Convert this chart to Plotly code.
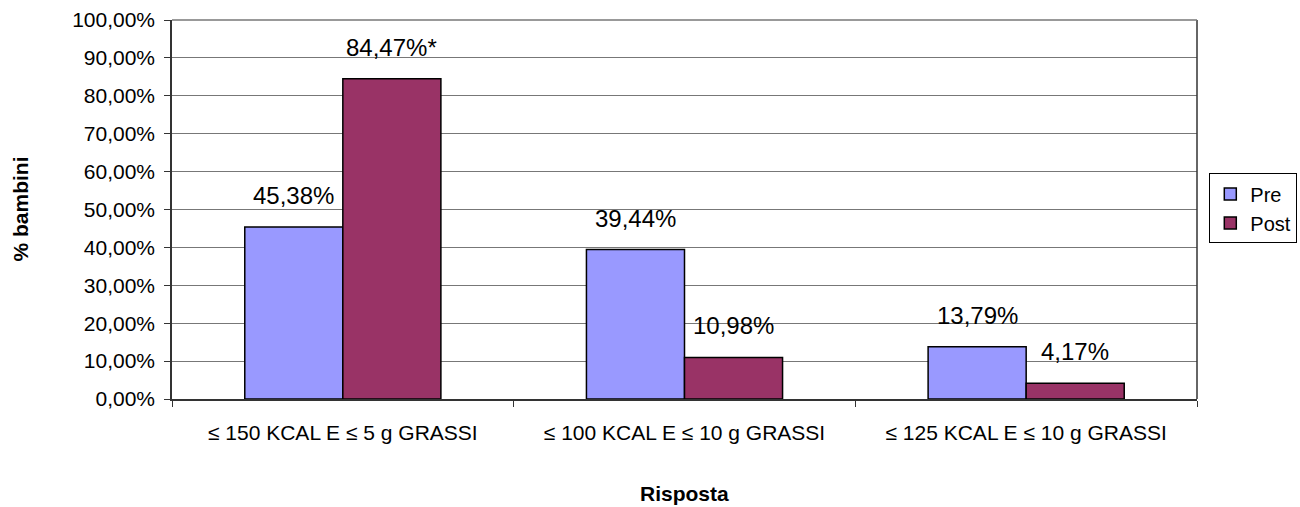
import plotly.graph_objects as go

categories = ["≤ 150 KCAL E ≤ 5 g GRASSI", "≤ 100 KCAL E ≤ 10 g GRASSI", "≤ 125 KCAL E ≤ 10 g GRASSI"]
pre_values = [45.38, 39.44, 13.79]
post_values = [84.47, 10.98, 4.17]
post_marks = ["*", "", ""]
y_ticks = [0, 10, 20, 30, 40, 50, 60, 70, 80, 90, 100]


def fmt(v):
    return f"{v:.2f}".replace(".", ",") + "%"


FONT = "Liberation Sans, Arial, sans-serif"
BAR_SHIFT = 49  # half a bar width in px: centre of each bar in its group

fig = go.Figure()
fig.add_trace(go.Bar(
    name="Pre", x=categories, y=pre_values,
    marker=dict(color="#9999ff", line=dict(color="#000000", width=1.5)),
))
fig.add_trace(go.Bar(
    name="Post", x=categories, y=post_values,
    marker=dict(color="#993366", line=dict(color="#000000", width=1.5)),
))

# value labels above each bar
for cat, v in zip(categories, pre_values):
    fig.add_annotation(x=cat, y=v, text=fmt(v), xshift=-BAR_SHIFT, yshift=16,
                       yanchor="bottom", showarrow=False,
                       font=dict(size=24, family=FONT, color="#000000"))
for cat, v, m in zip(categories, post_values, post_marks):
    fig.add_annotation(x=cat, y=v, text=fmt(v) + m, xshift=BAR_SHIFT, yshift=16,
                       yanchor="bottom", showarrow=False,
                       font=dict(size=24, family=FONT, color="#000000"))

# axis titles
fig.add_annotation(xref="paper", yref="paper", x=0.5, y=0, yshift=-94,
                   text="<b>Risposta</b>", showarrow=False, yanchor="middle",
                   font=dict(size=21, family=FONT, color="#000000"))
fig.add_annotation(xref="paper", yref="paper", x=0, y=0.5, xshift=-152,
                   text="<b>% bambini</b>", showarrow=False, textangle=-90,
                   xanchor="center", yanchor="middle",
                   font=dict(size=21, family=FONT, color="#000000"))

fig.update_layout(
    width=1300, height=507,
    margin=dict(l=172, r=103, t=20, b=108, autoexpand=False),
    paper_bgcolor="white", plot_bgcolor="white",
    barmode="group", bargap=0.426, bargroupgap=0,
    font=dict(family=FONT, color="#000000", size=21),
    showlegend=True,
    legend=dict(
        x=1.012, y=0.595, xanchor="left", yanchor="top",
        bordercolor="#000000", borderwidth=1, bgcolor="white",
        font=dict(size=20, family=FONT),
        itemwidth=30, tracegroupgap=0,
    ),
)
fig.update_yaxes(
    range=[0, 100], tickmode="array", tickvals=y_ticks,
    ticktext=[fmt(t) for t in y_ticks],
    showgrid=True, gridcolor="#777777", gridwidth=1,
    showline=True, linecolor="#333333", linewidth=1.5,
    ticks="outside", ticklen=6, tickcolor="#333333", ticklabelstandoff=5,
    tickfont=dict(size=21, family=FONT),
    zeroline=False, automargin=False,
)
fig.update_xaxes(
    showline=True, linecolor="#333333", linewidth=1.5,
    ticks="outside", tickson="boundaries", ticklen=6, tickcolor="#333333",
    ticklabelstandoff=14,
    tickfont=dict(size=21, family=FONT),
    automargin=False,
)
# frame line along the top and right of the plotting area
fig.add_shape(type="line", xref="paper", yref="paper", x0=1, x1=1, y0=0, y1=1,
              line=dict(color="#333333", width=1.5))
fig.add_shape(type="line", xref="paper", yref="paper", x0=0, x1=1, y0=1, y1=1,
              line=dict(color="#777777", width=1.5))

fig.write_html("out.html")
